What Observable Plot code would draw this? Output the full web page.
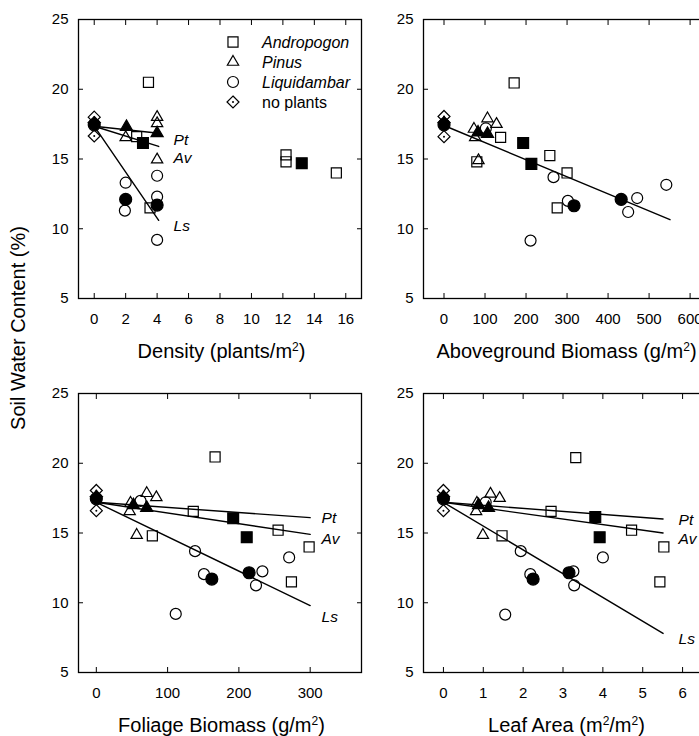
<!DOCTYPE html>
<html>
<head>
<meta charset="utf-8">
<script src="https://cdn.jsdelivr.net/npm/d3@7"></script>
<script src="https://cdn.jsdelivr.net/npm/@observablehq/plot@0.6"></script>
<style>
  body { margin: 0; background: #fff; }
  #fig { position: relative; width: 699px; height: 736px; overflow: hidden; background: #fff;
         font-family: "Liberation Sans", Arial, Helvetica, sans-serif; color: #000; }
  .panel { position: absolute; }
  .xtitle { position: absolute; font-size: 20px; white-space: nowrap; transform: translate(-50%, -50%); }
  .xtitle sup { font-size: 12px; vertical-align: 7px; line-height: 0; }
  .ytitle { position: absolute; font-size: 20px; white-space: nowrap; transform: translate(-50%, -50%) rotate(-90deg); }
  .legend { position: absolute; }
</style>
</head>
<body>
<div id="fig"></div>
<script>
// ---------- shared ----------
const yTicks = [5, 10, 15, 20, 25];
const lineLabels = ["Pt", "Av", "Ls"];
const legendNames = ["Andropogon", "Pinus", "Liquidambar", "no plants"];

// ---------- Panel 1: Density (plants/m2) ----------
const densityTicks = [0, 2, 4, 6, 8, 10, 12, 14, 16];
const densityAndropogon = [[3.45, 20.5], [2.7, 16.6], [3.55, 11.5], [12.2, 15.3], [12.2, 14.8], [15.4, 14.0]];
const densityAndropogonMean = [[3.1, 16.15], [13.2, 14.7]];
const densityPinus = [[4, 18.0], [4, 17.55], [4, 14.95], [2, 16.55]];
const densityPinusMean = [[2.05, 17.3], [4, 16.85]];
const densityLiquidambar = [[2, 13.3], [1.95, 11.3], [4, 13.8], [4, 12.3], [4, 9.2]];
const densityLiquidambarMean = [[0, 17.45], [2, 12.1], [4, 11.7]];
const densityNoPlants = [[0, 18.0], [0, 16.65]];
const densityNoPlantsMean = [[0, 17.6]];
const densityLinePt = [[0, 17.35], [4.1, 16.85]];
const densityLineAv = [[0, 17.35], [4.1, 15.9]];
const densityLineLs = [[0, 17.35], [4.1, 10.6]];
const densityLabelXY = [[5.05, 16.35], [5.05, 15.05], [5.05, 10.2]];

// ---------- Panel 2: Aboveground Biomass (g/m2) ----------
const aboveTicks = [0, 100, 200, 300, 400, 500, 600];
const aboveAndropogon = [[171, 20.45], [138, 16.55], [80, 14.8], [258, 15.25], [300, 14.0], [276, 11.5]];
const aboveAndropogonMean = [[193, 16.15], [213, 14.65]];
const abovePinus = [[73, 17.15], [76, 16.55], [84, 14.9], [106, 17.9], [128, 17.5]];
const abovePinusMean = [[83, 16.9], [106, 16.8]];
const aboveLiquidambar = [[102, 17.2], [267, 13.7], [302, 12.0], [211, 9.15], [449, 11.2], [471, 12.2], [542, 13.15]];
const aboveLiquidambarMean = [[0, 17.45], [317, 11.65], [432, 12.1]];
const aboveNoPlants = [[0, 18.05], [0, 16.6]];
const aboveNoPlantsMean = [[0, 17.6]];
const aboveLineAll = [[0, 17.4], [551, 10.65]];

// ---------- Panel 3: Foliage Biomass (g/m2) ----------
const foliageTicks = [0, 100, 200, 300];
const foliageAndropogon = [[166.6, 20.45], [136, 16.55], [78.6, 14.8], [255, 15.2], [298.5, 14.0], [273.7, 11.5]];
const foliageAndropogonMean = [[192, 16.05], [211, 14.7]];
const foliagePinus = [[48, 17.15], [46.8, 16.55], [56.6, 14.85], [70.7, 17.85], [84.2, 17.55]];
const foliagePinusMean = [[52, 17.0], [70.7, 16.8]];
const foliageLiquidambar = [[62, 17.3], [138.5, 13.7], [151, 12.05], [111.4, 9.2], [224, 11.25], [233, 12.25], [270.5, 13.25]];
const foliageLiquidambarMean = [[0, 17.45], [162, 11.7], [214.3, 12.15]];
const foliageNoPlants = [[0, 18.05], [0, 16.6]];
const foliageNoPlantsMean = [[0, 17.6]];
const foliageLinePt = [[0, 17.2], [300, 16.1]];
const foliageLineAv = [[0, 17.2], [300, 14.9]];
const foliageLineLs = [[0, 17.2], [300, 9.8]];
const foliageLabelXY = [[316, 16.05], [316, 14.6], [316, 9.0]];

// ---------- Panel 4: Leaf Area (m2/m2) ----------
const leafTicks = [0, 1, 2, 3, 4, 5, 6];
const leafAndropogon = [[3.32, 20.4], [2.7, 16.55], [1.47, 14.8], [4.72, 15.2], [5.53, 14.0], [5.43, 11.5]];
const leafAndropogonMean = [[3.81, 16.15], [3.92, 14.7]];
const leafPinus = [[0.84, 17.15], [0.82, 16.55], [0.99, 14.85], [1.18, 17.8], [1.41, 17.5]];
const leafPinusMean = [[0.88, 17.0], [1.13, 16.8]];
const leafLiquidambar = [[1.06, 17.2], [1.94, 13.7], [2.18, 12.05], [1.55, 9.15], [3.26, 12.25], [3.28, 11.25], [4.0, 13.25]];
const leafLiquidambarMean = [[0, 17.45], [2.25, 11.7], [3.15, 12.15]];
const leafNoPlants = [[0, 18.05], [0, 16.6]];
const leafNoPlantsMean = [[0, 17.6]];
const leafLinePt = [[0, 17.2], [5.51, 16.0]];
const leafLineAv = [[0, 17.2], [5.51, 15.0]];
const leafLineLs = [[0, 17.2], [5.51, 7.8]];
const leafLabelXY = [[5.9, 15.9], [5.9, 14.6], [5.9, 7.4]];

// ---------- layout ----------
const FW = 283, FH = 279;            // frame size
const ML = 40, MR = 40, MT = 10, MB = 40;
const fig = document.getElementById("fig");

const SYM = {
  square:   {symbol: "square2",   rOpen: 6.4, rFill: 6.9},
  triangle: {symbol: "triangle2", rOpen: 5.4, rFill: 5.8},
  circle:   {symbol: "circle",    rOpen: 5.5, rFill: 6.0},
  diamond:  {symbol: "diamond2",  rOpen: 5.4, rFill: 5.6}
};
const toXY = a => a.map(([x, y]) => ({x, y}));

function dotMarks(data, shape, filled) {
  const s = SYM[shape];
  return Plot.dot(toXY(data), {
    x: "x", y: "y", symbol: s.symbol, r: filled ? s.rFill : s.rOpen,
    fill: filled ? "black" : "none", stroke: "black", strokeWidth: 1.2
  });
}

function panel(cfg) {
  const marks = [
    Plot.frame({stroke: "black", strokeWidth: 1.3}),
    Plot.axisX({anchor: "bottom", ticks: cfg.xTicks, tickSize: -5, tickPadding: 20, label: null, fontSize: 15}),
    Plot.axisX({anchor: "top", ticks: cfg.xTicks, tickSize: -5, tickFormat: () => "", label: null}),
    Plot.axisY({anchor: "left", ticks: yTicks, tickSize: -5, tickPadding: 15, label: null, fontSize: 15}),
    Plot.axisY({anchor: "right", ticks: yTicks, tickSize: -5, tickFormat: () => "", label: null})
  ];
  cfg.lines.forEach(l => marks.push(Plot.line(toXY(l), {x: "x", y: "y", stroke: "black", strokeWidth: 1.4})));
  marks.push(dotMarks(cfg.andropogon, "square", false));
  marks.push(dotMarks(cfg.pinus, "triangle", false));
  marks.push(dotMarks(cfg.liquidambar, "circle", false));
  marks.push(dotMarks(cfg.noPlants, "diamond", false));
  marks.push(Plot.dot(toXY(cfg.noPlants), {x: "x", y: "y", r: 1, fill: "black"}));
  marks.push(dotMarks(cfg.noPlantsMean, "diamond", true));
  marks.push(dotMarks(cfg.liquidambarMean, "circle", true));
  marks.push(dotMarks(cfg.pinusMean, "triangle", true));
  marks.push(dotMarks(cfg.andropogonMean, "square", true));
  if (cfg.labels) {
    marks.push(Plot.text(cfg.labels.map(([x, y], i) => ({x, y, t: lineLabels[i]})), {
      x: "x", y: "y", text: "t", textAnchor: "start", fontStyle: "italic", fontSize: 15.5, fill: "black"
    }));
  }
  const svg = Plot.plot({
    width: FW + ML + MR, height: FH + MT + MB,
    marginLeft: ML, marginRight: MR, marginTop: MT, marginBottom: MB,
    x: {domain: cfg.xDomain},
    y: {domain: [5, 25]},
    style: {background: "transparent", color: "black", fontFamily: "Liberation Sans, Arial, sans-serif", fontSize: "15px", overflow: "visible"},
    marks
  });
  svg.classList.add("panel");
  svg.style.left = (cfg.left - ML) + "px";
  svg.style.top = (cfg.top - MT) + "px";
  fig.appendChild(svg);

  const t = document.createElement("div");
  t.className = "xtitle";
  t.innerHTML = cfg.title;
  t.style.left = (cfg.left + FW / 2 + 2) + "px";
  t.style.top = (cfg.top + FH + 53) + "px";
  fig.appendChild(t);
}

panel({
  left: 78, top: 19, xDomain: [-1, 17], xTicks: densityTicks,
  title: "Density (plants/m<sup>2</sup>)",
  andropogon: densityAndropogon, andropogonMean: densityAndropogonMean,
  pinus: densityPinus, pinusMean: densityPinusMean,
  liquidambar: densityLiquidambar, liquidambarMean: densityLiquidambarMean,
  noPlants: densityNoPlants, noPlantsMean: densityNoPlantsMean,
  lines: [densityLinePt, densityLineAv, densityLineLs], labels: densityLabelXY
});
panel({
  left: 423, top: 19, xDomain: [-50, 640], xTicks: aboveTicks,
  title: "Aboveground Biomass (g/m<sup>2</sup>)",
  andropogon: aboveAndropogon, andropogonMean: aboveAndropogonMean,
  pinus: abovePinus, pinusMean: abovePinusMean,
  liquidambar: aboveLiquidambar, liquidambarMean: aboveLiquidambarMean,
  noPlants: aboveNoPlants, noPlantsMean: aboveNoPlantsMean,
  lines: [aboveLineAll], labels: null
});
panel({
  left: 78, top: 393, xDomain: [-25, 372], xTicks: foliageTicks,
  title: "Foliage Biomass (g/m<sup>2</sup>)",
  andropogon: foliageAndropogon, andropogonMean: foliageAndropogonMean,
  pinus: foliagePinus, pinusMean: foliagePinusMean,
  liquidambar: foliageLiquidambar, liquidambarMean: foliageLiquidambarMean,
  noPlants: foliageNoPlants, noPlantsMean: foliageNoPlantsMean,
  lines: [foliageLinePt, foliageLineAv, foliageLineLs], labels: foliageLabelXY
});
panel({
  left: 423, top: 393, xDomain: [-0.5, 6.6], xTicks: leafTicks,
  title: "Leaf Area (m<sup>2</sup>/m<sup>2</sup>)",
  andropogon: leafAndropogon, andropogonMean: leafAndropogonMean,
  pinus: leafPinus, pinusMean: leafPinusMean,
  liquidambar: leafLiquidambar, liquidambarMean: leafLiquidambarMean,
  noPlants: leafNoPlants, noPlantsMean: leafNoPlantsMean,
  lines: [leafLinePt, leafLineAv, leafLineLs], labels: leafLabelXY
});

// y title
const yt = document.createElement("div");
yt.className = "ytitle";
yt.textContent = "Soil Water Content (%)";
yt.style.left = "18px";
yt.style.top = "328px";
fig.appendChild(yt);

// legend
const legSym = [d3.symbolSquare2, d3.symbolTriangle2, d3.symbolCircle, d3.symbolDiamond2];
const legR = [6.4, 5.4, 5.5, 5.4];
const leg = d3.create("svg").attr("class", "legend").attr("width", 170).attr("height", 90)
  .style("left", "218px").style("top", "30px");
legendNames.forEach((name, i) => {
  const g = leg.append("g").attr("transform", `translate(15,${12 + i * 20})`);
  g.append("path").attr("d", d3.symbol(legSym[i], Math.PI * legR[i] * legR[i])())
    .attr("fill", "none").attr("stroke", "black").attr("stroke-width", 1.2);
  if (i === 3) g.append("circle").attr("r", 1).attr("fill", "black");
  g.append("text").attr("x", 29).attr("dy", "0.35em")
    .attr("font-size", 16).attr("font-family", "Liberation Sans, Arial, sans-serif")
    .attr("font-style", i < 3 ? "italic" : "normal").text(name);
});
fig.appendChild(leg.node());
</script>
</body>
</html>
